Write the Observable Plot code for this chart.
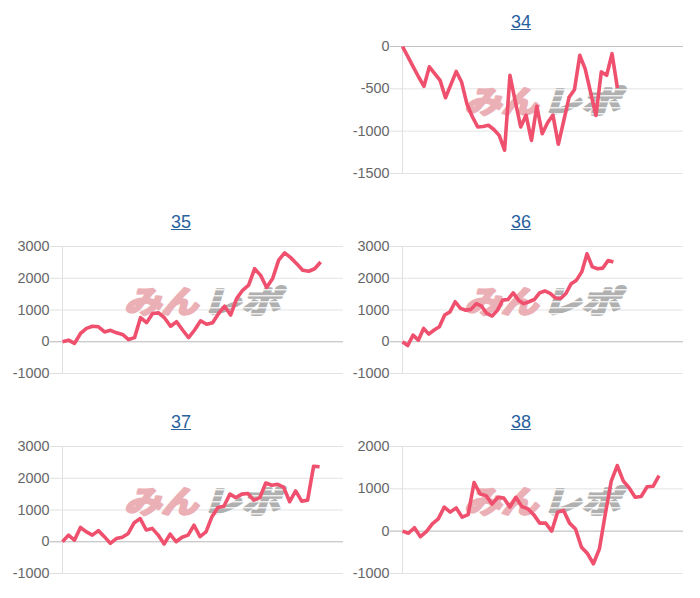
<!DOCTYPE html>
<html><head><meta charset="utf-8">
<script src="https://cdn.jsdelivr.net/npm/d3@7"></script>
<script src="https://cdn.jsdelivr.net/npm/@observablehq/plot@0.6"></script>
<style>
html,body{margin:0;padding:0;background:#fff}
body{width:700px;height:598px;position:relative;overflow:hidden;font-family:"Liberation Sans",Arial,sans-serif}
.panel{position:absolute}
.panel svg{overflow:visible}
.title{position:absolute;width:340px;text-align:center;font-size:18px;line-height:20px;color:#2a5f9e;text-decoration:underline}
</style></head><body>
<svg width="0" height="0" style="position:absolute"><defs>
<pattern id="wmStripe" patternUnits="userSpaceOnUse" width="8" height="6"><rect width="8" height="6" fill="#b0b0b0"/><rect y="4.2" width="8" height="1.2" fill="#fff"/></pattern>
</defs></svg>
<script>
// chart titles (machine numbers)
const titles = ["34", "35", "36", "37", "38"];
// series values
const vals34 = [0,-120,-240,-360,-470,-240,-320,-400,-605,-450,-295,-420,-680,-830,-950,-945,-930,-980,-1050,-1225,-340,-650,-950,-810,-1110,-705,-1030,-900,-810,-1155,-880,-600,-510,-105,-265,-540,-815,-300,-340,-85,-490];
const vals35 = [0,50,-50,260,420,490,470,310,360,280,230,70,130,760,600,890,910,750,490,630,370,130,370,660,550,600,890,1120,840,1360,1620,1780,2300,2090,1710,1990,2570,2800,2650,2460,2250,2220,2300,2510];
const vals36 = [0,-120,210,50,420,240,370,470,840,940,1260,1050,990,1020,1200,1120,890,810,990,1310,1330,1540,1310,1200,1260,1330,1540,1600,1520,1380,1360,1520,1830,1940,2200,2770,2360,2300,2320,2560,2510];
const vals37 = [0,210,50,450,310,210,350,160,-50,100,140,260,600,730,370,420,210,-70,240,0,140,210,520,160,310,790,1080,1120,1500,1390,1500,1520,1310,1390,1850,1780,1810,1710,1260,1600,1280,1310,2380,2360];
const vals38 = [0,-50,80,-130,-10,170,290,570,450,550,330,390,1150,880,840,640,800,780,570,800,580,530,390,190,190,0,450,490,190,50,-380,-530,-770,-420,410,1190,1550,1190,1020,800,820,1050,1060,1310];
const series = [vals34, vals35, vals36, vals37, vals38];
// y tick labels per chart
const ticks34 = [0, -500, -1000, -1500];
const ticks35 = [3000, 2000, 1000, 0, -1000];
const ticks36 = [3000, 2000, 1000, 0, -1000];
const ticks37 = [3000, 2000, 1000, 0, -1000];
const ticks38 = [2000, 1000, 0, -1000];
const tickSets = [ticks34, ticks35, ticks36, ticks37, ticks38];
// x extent (time axis length) per chart
const xEnds = [52.3, 46.8, 53.3, 47.0, 47.1];
// grid placement (column,row)
const cells = [[1,0],[0,1],[1,1],[0,2],[1,2]];

const lineColor = "#ef506e";
const wmFont = {fontSize: 31, fontWeight: "bold", fontStyle: "italic", fontFamily: "Noto Sans CJK JP", strokeWidth: 2.4, strokeLinejoin: "round"};
const wmLen = {"みん": 74, "レポ": 78};

series.forEach((vals, k) => {
  const [c, r] = cells[k];
  const ticks = tickSets[k];
  const title = document.createElement("div");
  title.className = "title";
  title.textContent = titles[k];
  title.style.left = (340 * c + 11) + "px";
  title.style.top = (200 * r + 12) + "px";
  document.body.appendChild(title);

  const data = vals.map((v, i) => ({i, v}));
  const chart = Plot.plot({
    width: 345, height: 147,
    marginTop: 10, marginBottom: 10, marginLeft: 62, marginRight: 2,
    style: {fontFamily: "'Liberation Sans', Arial, sans-serif", fontSize: "14.4px", color: "#666", background: "transparent", overflow: "visible"},
    x: {domain: [0, xEnds[k]], axis: null},
    y: {domain: [d3.min(ticks), d3.max(ticks)], axis: null},
    marks: [
      Plot.gridY(ticks, {stroke: "#e3e3e3", strokeOpacity: 1}),
      Plot.axisY(ticks, {label: null, tickSize: 12, tickPadding: 1, stroke: "#e0e0e0", strokeOpacity: 1, fill: "#666", fontSize: 14.4, tickFormat: d => String(d)}),
      Plot.ruleY([0], {stroke: "#c2c2c2"}),
      Plot.axisY([0], {label: null, tickSize: 12, stroke: "#c2c2c2", strokeOpacity: 1, tickFormat: () => ""}),
      Plot.ruleX([0], {stroke: "#e0e0e0"}),
      Plot.text(["みん"], {text: d => d, frameAnchor: "middle", dx: -42, dy: -7, fill: "#ebb0b6", stroke: "#ebb0b6", ...wmFont}),
      Plot.text(["レポ"], {text: d => d, frameAnchor: "middle", dx: 38, dy: -7, fill: "url(#wmStripe)", stroke: "url(#wmStripe)", ...wmFont}),
      Plot.line(data, {x: "i", y: "v", stroke: lineColor, strokeWidth: 3.6, strokeLinejoin: "round", strokeLinecap: "butt"})
    ]
  });
  // stretch the watermark glyphs to the logo's width
  chart.querySelectorAll("text").forEach(t => {
    const s = t.textContent;
    if (wmLen[s]) {
      t.setAttribute("textLength", wmLen[s]);
      t.setAttribute("lengthAdjust", "spacingAndGlyphs");
    }
  });
  const wrap = document.createElement("div");
  wrap.className = "panel";
  wrap.style.left = (340 * c) + "px";
  wrap.style.top = (200 * r + 36) + "px";
  wrap.appendChild(chart);
  document.body.appendChild(wrap);
});
</script>
</body></html>
